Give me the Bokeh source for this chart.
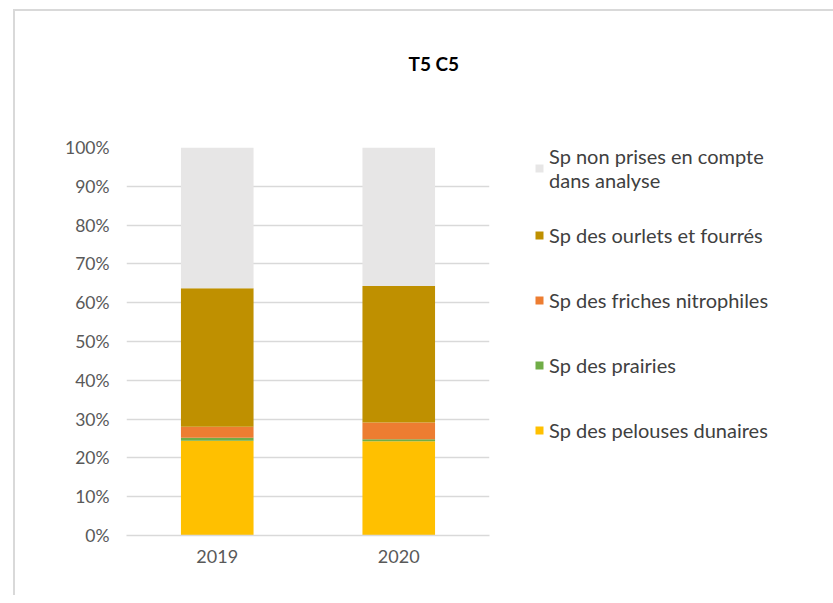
from bokeh.plotting import figure
from bokeh.models import (Legend, LegendItem, NumeralTickFormatter, FactorRange,
                          Range1d, FixedTicker, ColumnDataSource, Title)
from bokeh.embed import file_html
from bokeh.resources import INLINE

# ---- data ----
years = ["2019", "2020"]
pelouses_dunaires = [24.4, 24.3]
prairies = [0.8, 0.5]
friches_nitrophiles = [2.8, 4.3]
ourlets_fourres = [35.7, 35.2]
non_prises = [36.3, 35.7]
y_ticks_pct = [0, 10, 20, 30, 40, 50, 60, 70, 80, 90, 100]

series_keys = ["pelouses", "prairies", "friches", "ourlets", "nonprises"]
series_labels = ["Sp des pelouses dunaires", "Sp des prairies",
                 "Sp des friches nitrophiles", "Sp des ourlets et fourrés",
                 "Sp non prises en compte\ndans analyse"]
series_values = [pelouses_dunaires, prairies, friches_nitrophiles,
                 ourlets_fourres, non_prises]
colors = ["#FFC000", "#70AD47", "#ED7D31", "#BF9000", "#E7E6E6"]

data = {"years": years}
for k, vals in zip(series_keys, series_values):
    data[k] = [v / 100.0 for v in vals]
source = ColumnDataSource(data)

FONT = "Lato"
GRAY_TXT = "#595959"
GRID = "#D9D9D9"

p = figure(x_range=FactorRange(*years, range_padding=0),
           y_range=Range1d(0, 1),
           frame_width=363, frame_height=388,
           min_border_left=111, min_border_top=136,
           min_border_bottom=60, min_border_right=40,
           output_backend="svg", toolbar_location=None,
           styles={"margin-left": "13px", "margin-top": "9px",
                   "border-left": "2px solid #D9D9D9",
                   "border-top": "2px solid #D9D9D9"})

renderers = p.vbar_stack(series_keys, x="years", width=0.4, source=source,
                         color=colors, line_color=None)

# invisible spacer between the frame and the title
spacer = Title(text=" ", text_font_size="1px", standoff=70)
p.add_layout(spacer, "above")

p.title.text = "T5 C5"
p.title.align = "left"
p.title.offset = 282
p.title.standoff = 0
p.title.text_font = FONT
p.title.text_font_style = "bold"
p.title.text_font_size = "19px"
p.title.text_color = "#000000"

p.outline_line_color = None
p.background_fill_color = "white"
p.border_fill_color = "white"

p.xgrid.grid_line_color = None
p.ygrid.grid_line_color = GRID
p.ygrid.grid_line_width = 1.5
p.ygrid.ticker = FixedTicker(ticks=[t / 100.0 for t in y_ticks_pct])

p.yaxis.ticker = FixedTicker(ticks=[t / 100.0 for t in y_ticks_pct])
p.yaxis.formatter = NumeralTickFormatter(format="0%")
p.yaxis.axis_line_color = None
p.yaxis.major_tick_line_color = None
p.yaxis.minor_tick_line_color = None
p.yaxis.major_tick_out = 0
p.yaxis.major_label_standoff = 17
p.yaxis.major_label_text_font = FONT
p.yaxis.major_label_text_font_size = "17.5px"
p.yaxis.major_label_text_color = GRAY_TXT

p.xaxis.axis_line_color = GRID
p.xaxis.axis_line_width = 1.5
p.xaxis.major_tick_line_color = None
p.xaxis.minor_tick_line_color = None
p.xaxis.major_tick_out = 0
p.xaxis.major_label_standoff = 14
p.xaxis.major_label_text_font = FONT
p.xaxis.major_label_text_font_size = "18px"
p.xaxis.major_label_text_color = GRAY_TXT

items = [LegendItem(label=lab, renderers=[r])
         for lab, r in zip(series_labels, renderers)][::-1]
legend = Legend(items=items, location=(45, 83), orientation="vertical",
                padding=0, margin=0, spacing=20, label_height=45,
                glyph_width=10, glyph_height=10, label_standoff=5,
                border_line_color=None, background_fill_alpha=0,
                label_text_font=FONT, label_text_font_size="20px",
                label_text_line_height=1.25,
                label_text_color="#404040")
p.add_layout(legend, "right")

open("out.html", "w").write(file_html(p, INLINE))
